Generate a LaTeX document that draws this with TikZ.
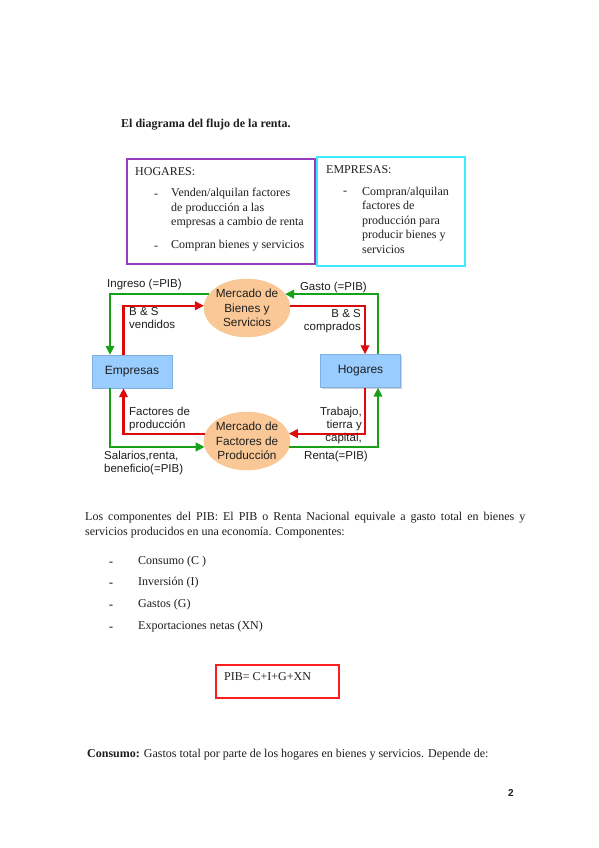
\documentclass[tikz,border=0pt]{standalone}
\usepackage{fontspec}
\setmainfont{Liberation Serif}
\setsansfont{Liberation Sans}
\usepackage{xcolor}
\usepackage{tikz}
\usetikzlibrary{shapes, shapes.geometric, arrows.meta, positioning, shadows}

\definecolor{azulcaja}{RGB}{153,204,255}
\definecolor{bordecaja}{RGB}{130,175,225}
\definecolor{melocoton}{RGB}{250,200,150}
\definecolor{verdeflujo}{RGB}{25,160,25}
\definecolor{rojoflujo}{RGB}{220,10,10}
\definecolor{morado}{RGB}{150,60,190}
\definecolor{cian}{RGB}{60,235,255}
\definecolor{rojopib}{RGB}{250,30,30}
\definecolor{tinta}{RGB}{30,30,30}

\begin{document}
\begin{tikzpicture}[x=1pt, y=-1pt,
    texto/.style={inner sep=0pt, text=tinta, font=\fontsize{12}{14.5}\selectfont},
    etiqueta/.style={inner sep=0pt, text=tinta, font=\sffamily\fontsize{11.5}{13}\selectfont},
    caja/.style={draw=bordecaja, fill=azulcaja, minimum width=80pt, minimum height=33pt,
        drop shadow={shadow xshift=1pt, shadow yshift=-1pt, opacity=.35},
        font=\sffamily\fontsize{12}{14}\selectfont, text=tinta},
    mercado/.style={ellipse, fill=melocoton, draw=melocoton!90!orange, inner sep=-1pt,
        minimum width=86pt, minimum height=58pt, align=center,
        font=\sffamily\fontsize{11.8}{14.7}\selectfont, text=tinta},
    verde/.style={draw=verdeflujo, line width=2.2pt, -{Triangle[length=9pt, width=8.5pt]}},
    rojo/.style={draw=rojoflujo, line width=2.2pt, -{Triangle[length=9pt, width=8.5pt]}}
]
\fill[white] (0,0) rectangle (599,848);
\useasboundingbox (0,0) rectangle (599,848);

% titulo
\node[texto, anchor=west, font=\bfseries\fontsize{12}{14.5}\selectfont] (titulo) at (121,125) {El diagrama del flujo de la renta.};

% cuadros de texto
\node[draw=morado, line width=1.6pt, minimum width=188pt, minimum height=105pt] (cajahog) at (221,211.5) {};
\node[draw=cian, line width=1.6pt, minimum width=148pt, minimum height=109pt] (cajaemp) at (391,211.5) {};

\node[texto, anchor=west] (hogtit) at (135,172) {HOGARES:};
\node[texto, anchor=west] (hogg1) at (154,196) {-};
\node[texto, anchor=west, align=left] (hogb1) at (171,208.5) {Venden/alquilan factores\\de producción a las\\empresas a cambio de renta};
\node[texto, anchor=west] (hogg2) at (154,248) {-};
\node[texto, anchor=west] (hogb2) at (171,246) {Compran bienes y servicios};

\node[texto, anchor=west] (emptit) at (326,170) {EMPRESAS:};
\node[texto, anchor=west] (empg1) at (343,193) {-};
\node[texto, anchor=west, align=left] (empb1) at (362,220) {Compran/alquilan\\factores de\\producción para\\producir bienes y\\servicios};

% flujo circular
\node[caja] (empresas) at (132,371.5) {Empresas};
\node[caja] (hogares) at (360.5,371) {Hogares};
\node[mercado] (bienes) at (247,308) {Mercado de\\Bienes y\\Servicios};
\node[mercado] (factores) at (247,441) {Mercado de\\Factores de\\Producción};

\draw[verde] (bienes.160) -| ([xshift=-22pt]empresas.north);
\draw[rojo] ([xshift=-8.5pt]empresas.north) |- (bienes.177);
\draw[rojo] (bienes.3) -| ([xshift=4.5pt]hogares.north);
\draw[verde] ([xshift=17.5pt]hogares.north) |- (bienes.20);
\draw[rojo] ([xshift=4.5pt]hogares.south) |- (factores.10);
\draw[rojo] (factores.170) -| ([xshift=-8.5pt]empresas.south);
\draw[verde] ([xshift=-22pt]empresas.south) |- (factores.188);
\draw[verde] (factores.-8) -| ([xshift=17.5pt]hogares.south);

\node[etiqueta, anchor=west] (ingreso) at (107,285) {Ingreso (=PIB)};
\node[etiqueta, anchor=west, align=left] (vendidos) at (129,318) {B \& S\\vendidos};
\node[etiqueta, anchor=east] (gasto) at (367,288) {Gasto (=PIB)};
\node[etiqueta, anchor=east, align=right] (comprados) at (361,321.5) {B \& S\\comprados};
\node[etiqueta, anchor=west, align=left] (factprod) at (129,419.5) {Factores de\\producción};
\node[etiqueta, anchor=west, align=left] (salarios) at (104,463) {Salarios,renta,\\beneficio(=PIB)};
\node[etiqueta, anchor=east, align=right] (trabajo) at (362,426) {Trabajo,\\tierra y\\capital,};
\node[etiqueta, anchor=east] (renta) at (368,457) {Renta(=PIB)};

% componentes del PIB
\node[texto, anchor=west] (comp1) at (85,518) {\makebox[440pt][s]{Los componentes del PIB: El PIB o Renta Nacional equivale a gasto total en bienes y}};
\node[texto, anchor=west] (comp2) at (85,533) {servicios producidos en una economía. Componentes:};

\node[texto, anchor=west, font=\bfseries\fontsize{12}{14.5}\selectfont] (g1) at (109,564) {-};
\node[texto, anchor=west] (c1) at (138,562) {Consumo (C )};
\node[texto, anchor=west, font=\bfseries\fontsize{12}{14.5}\selectfont] (g2) at (109,585) {-};
\node[texto, anchor=west] (c2) at (138,583) {Inversión (I)};
\node[texto, anchor=west, font=\bfseries\fontsize{12}{14.5}\selectfont] (g3) at (109,607) {-};
\node[texto, anchor=west] (c3) at (138,605) {Gastos (G)};
\node[texto, anchor=west, font=\bfseries\fontsize{12}{14.5}\selectfont] (g4) at (109,629) {-};
\node[texto, anchor=west] (c4) at (138,627) {Exportaciones netas (XN)};

\node[draw=rojopib, line width=1.5pt, minimum width=123pt, minimum height=33pt] (cajapib) at (277.5,681.5) {};
\node[texto, anchor=west] (pib) at (224,677) {PIB= C+I+G+XN};

\node[texto, anchor=west] (consumo) at (87,755) {\textbf{Consumo:} Gastos total por parte de los hogares en bienes y servicios. Depende de:};
\node[inner sep=0pt, text=tinta, anchor=west, font=\sffamily\bfseries\fontsize{10}{12}\selectfont] (pagina) at (508,793) {2};
\end{tikzpicture}
\end{document}
